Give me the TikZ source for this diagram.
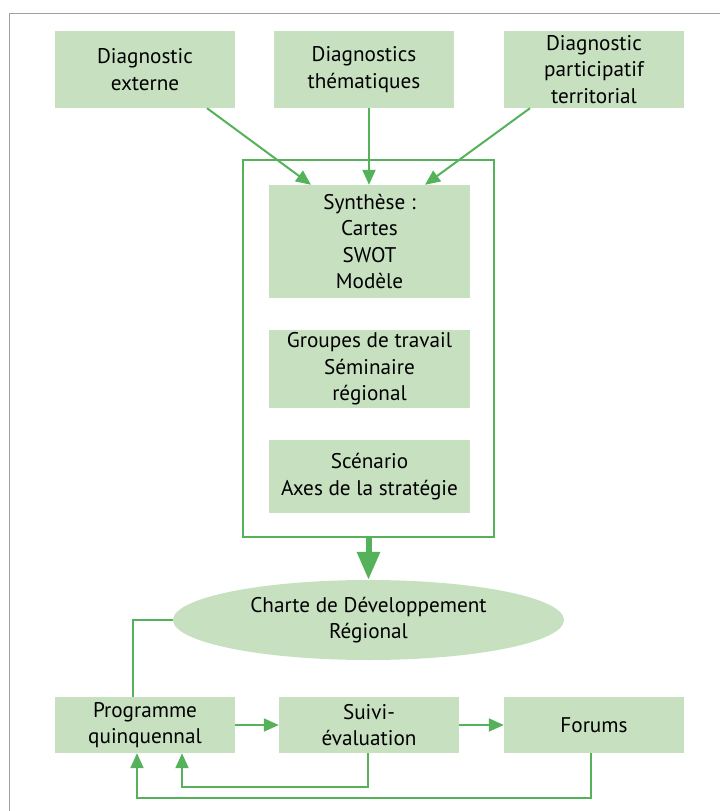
\documentclass[tikz,border=0pt]{standalone}
\usepackage{fontspec}
\setmainfont{PT Sans}
\usetikzlibrary{arrows.meta,calc,shapes.geometric}
\definecolor{boxgreen}{HTML}{C6E0C0}
\definecolor{arrgreen}{HTML}{55B25A}
\definecolor{framegray}{HTML}{A0A0A0}
\begin{document}
\begin{tikzpicture}[x=1pt,y=-1pt,
  box/.style={fill=boxgreen,draw=none,inner sep=0pt,align=center,
    font=\fontsize{21.2}{26.5}\selectfont},
  conn/.style={draw=arrgreen,line width=2pt},
  arr/.style={conn,-{Triangle[length=15pt,width=13pt]}},
  bigarr/.style={draw=arrgreen,line width=6pt,-{Triangle[length=28pt,width=22pt]}}]
\useasboundingbox (0,0) rectangle (720,811);
\draw[framegray,line width=1pt] (9,811) -- (9,13) -- (720,13);
% top row
\node[box,minimum width=180pt,minimum height=77pt] (d1) at (145,69.5) {Diagnostic\\externe};
\node[box,minimum width=180pt,minimum height=77pt] (d2) at (364,69.5) {Diagnostics\\thématiques};
\node[box,minimum width=180pt,minimum height=77pt] (d3) at (594,69.5) {Diagnostic\\participatif\\territorial};
% frame
\node[draw=arrgreen,line width=1.8pt,minimum width=251pt,minimum height=377pt,inner sep=0pt] (fr) at (368.5,348.5) {};
\node[box,minimum width=201pt,minimum height=113pt] (s1) at (369.5,241.5) {Synthèse :\\Cartes\\SWOT\\Modèle};
\node[box,minimum width=201pt,minimum height=78pt] (s2) at (369.5,369) {Groupes de travail\\Séminaire\\régional};
\node[box,minimum width=201pt,minimum height=73pt] (s3) at (369.5,476.5) {Scénario\\Axes de la stratégie};
% ellipse
\node[box,ellipse,minimum width=391pt,minimum height=80pt] (ch) at (368.5,620) {Charte de Développement\\Régional};
% bottom row
\node[box,minimum width=180pt,minimum height=56pt] (p) at (145,725) {Programme\\quinquennal};
\node[box,minimum width=180pt,minimum height=56pt] (sv) at (369,725) {Suivi-\\évaluation};
\node[box,minimum width=180pt,minimum height=56pt] (f) at (594,725) {Forums};
% arrows top
\draw[arr] ([xshift=62pt]d1.south) -- ([xshift=-58.5pt]s1.north);
\draw[arr] ([xshift=5pt]d2.south) -- ([xshift=-0.5pt]s1.north);
\draw[arr] ([xshift=-64pt]d3.south) -- ([xshift=55.5pt]s1.north);
\draw[bigarr] (fr.south) -- (ch.north);
% bottom connectors
\draw[conn] (ch.west) -| ([xshift=-12pt]p.north);
\draw[arr] (p.east) -- (sv.west);
\draw[arr] (sv.east) -- (f.west);
\coordinate (c1) at (368,787);
\coordinate (c2) at (591,798);
\draw[arr] ([xshift=-1pt]sv.south) |- (c1) -| ([xshift=37pt]p.south);
\draw[arr] ([xshift=-3pt]f.south) |- (c2) -| ([xshift=-8pt]p.south);
\end{tikzpicture}
\end{document}
